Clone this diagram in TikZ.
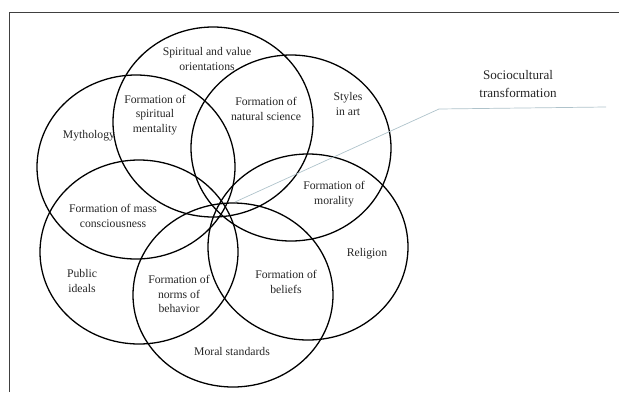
\documentclass[tikz,border=0pt]{standalone}
\usepackage{fontspec}
\setmainfont{Liberation Serif}
\usepackage{tikz}
\usetikzlibrary{calc}

\begin{document}
\begin{tikzpicture}[x=0.03cm, y=-0.03cm,
        ring_style/.style={draw=black, line width=1.1pt},
        label_style/.style={align=center, inner sep=0pt, text=black!85, font=\fontsize{10}{12.6}\selectfont},
        title_style/.style={align=center, inner sep=0pt, text=black!85, font=\fontsize{11.2}{14.6}\selectfont},
        lead_style/.style={draw=cyan!25!gray!60, line width=0.6pt},
        frame_style/.style={draw=black!75, line width=0.7pt}]

        \useasboundingbox (0,0) rectangle (619,392);

        % open frame
        \draw [frame_style] (9,392) -- (9,12) -- (619,12);

        % six overlapping ellipses
        \draw [ring_style] (213,122) ellipse [x radius=100, y radius=95];

        \draw [ring_style] (291,148) ellipse [x radius=100, y radius=93];

        \draw [ring_style] (308,247) ellipse [x radius=100, y radius=93];

        \draw [ring_style] (233,295) ellipse [x radius=100, y radius=92];

        \draw [ring_style] (139,252) ellipse [x radius=99, y radius=92];

        \draw [ring_style] (136,167) ellipse [x radius=99, y radius=92];

        % labels
        \node [label_style](n1) at (207,59) {Spiritual and value\\orientations};

        \node [label_style](n2) at (155,115) {Formation of\\spiritual\\mentality};

        \node [label_style](n3) at (266,109) {Formation of\\natural science};

        \node [label_style](n4) at (89,136) {Mythology};

        \node [label_style](n5) at (348,104) {Styles\\in art};

        \node [label_style](n6) at (334,194) {Formation of\\morality};

        \node [label_style](n7) at (113,216) {Formation of mass\\consciousness};

        \node [label_style](n8) at (82,281) {Public\\ideals};

        \node [label_style](n9) at (179,294) {Formation of\\norms of\\behavior};

        \node [label_style](n10) at (286,282) {Formation of\\beliefs};

        \node [label_style](n11) at (367,254) {Religion};

        \node [label_style](n12) at (232,351) {Moral standards};

        \node [title_style](n13) at (518,84) {Sociocultural\\transformation};

        % leader line to the title
        \coordinate (c0) at (235,202);
        \coordinate (c1) at (439,109);
        \coordinate (c2) at (606,107);

        \draw [lead_style] (c0) -- (c1) -- (c2);

\end{tikzpicture}
\end{document}
